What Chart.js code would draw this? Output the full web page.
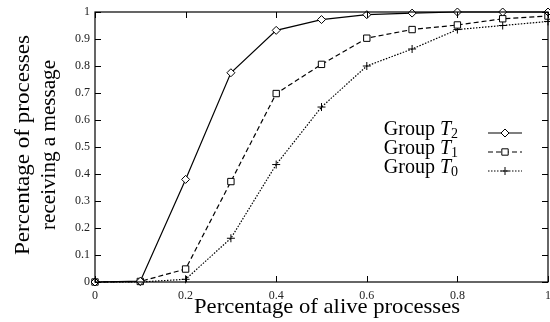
<!DOCTYPE html>
<html>
<head>
<meta charset="utf-8">
<script src="https://cdn.jsdelivr.net/npm/chart.js@4/dist/chart.umd.min.js"></script>
<style>
  html, body { margin: 0; padding: 0; background: #fff; }
  #wrap { width: 550px; height: 322px; }
</style>
</head>
<body>
<div id="wrap"><canvas id="c" width="550" height="322"></canvas></div>
<script>
const alive = [0, 0.1, 0.2, 0.3, 0.4, 0.5, 0.6, 0.7, 0.8, 0.9, 1];
const groupT2 = [0, 0.003, 0.38, 0.775, 0.932, 0.972, 0.99, 0.996, 1, 1, 1];
const groupT1 = [0, 0.002, 0.048, 0.372, 0.698, 0.806, 0.903, 0.935, 0.952, 0.975, 0.985];
const groupT0 = [0, 0, 0.01, 0.162, 0.435, 0.648, 0.8, 0.863, 0.935, 0.95, 0.965];
const xTicks = [0, 0.2, 0.4, 0.6, 0.8, 1];
const yTicks = [0, 0.1, 0.2, 0.3, 0.4, 0.5, 0.6, 0.7, 0.8, 0.9, 1];

const serif = "'Liberation Serif', 'DejaVu Serif', serif";

const series = [
    { sub: "2", data: groupT2, dash: [], style: "rectRot", radius: 4 },
    { sub: "1", data: groupT1, dash: [5, 3], style: "rect", radius: 4.5 },
    { sub: "0", data: groupT0, dash: [1.5, 1.5], style: "cross", radius: 4 }
];

// draws text stretched to a given width (the original uses a wider font)
function wideText(ctx, text, x, y, width) {
    const w = ctx.measureText(text).width;
    ctx.save();
    ctx.translate(x, y);
    ctx.scale(width / w, 1);
    ctx.fillText(text, 0, 0);
    ctx.restore();
}

// frame, inward ticks, axis titles and legend
const decor = {
    id: "decor",
    afterDraw(chart) {
        const ctx = chart.ctx;
        const a = chart.chartArea;
        const xs = chart.scales.x, ys = chart.scales.y;
        ctx.save();
        ctx.strokeStyle = "#000";
        ctx.lineWidth = 1.2;
        ctx.setLineDash([]);
        ctx.strokeRect(a.left, a.top, a.right - a.left, a.bottom - a.top);
        ctx.lineWidth = 1;
        ctx.beginPath();
        xTicks.forEach(v => {
            const px = Math.round(xs.getPixelForValue(v)) + 0.5;
            ctx.moveTo(px, a.bottom); ctx.lineTo(px, a.bottom - 6);
            ctx.moveTo(px, a.top); ctx.lineTo(px, a.top + 6);
        });
        yTicks.forEach(v => {
            const py = Math.round(ys.getPixelForValue(v)) + 0.5;
            ctx.moveTo(a.left, py); ctx.lineTo(a.left + 6, py);
            ctx.moveTo(a.right, py); ctx.lineTo(a.right - 6, py);
        });
        ctx.stroke();

        // axis titles
        ctx.fillStyle = "#000";
        ctx.font = "21px " + serif;
        ctx.textAlign = "center";
        ctx.textBaseline = "alphabetic";
        wideText(ctx, "Percentage of alive processes", 327, 313, 266);
        ctx.save();
        ctx.translate(0, 145);
        ctx.rotate(-Math.PI / 2);
        ctx.font = "20px " + serif;
        wideText(ctx, "Percentage of processes", 0, 29, 220);
        wideText(ctx, "receiving a message", 0, 55, 170);
        ctx.restore();

        // legend
        const rows = [135, 154, 173];
        series.forEach((s, i) => {
            const y = rows[i];
            ctx.fillStyle = "#000";
            ctx.textAlign = "left";
            ctx.textBaseline = "alphabetic";
            ctx.font = "14px " + serif;
            const subW = ctx.measureText(s.sub).width;
            ctx.font = "italic 20px " + serif;
            const tW = ctx.measureText("T").width;
            ctx.font = "20px " + serif;
            const gW = ctx.measureText("Group ").width;
            let x = 458 - subW - tW - gW;
            ctx.fillText("Group ", x, y);
            x += gW;
            ctx.font = "italic 20px " + serif;
            ctx.fillText("T", x, y);
            x += tW;
            ctx.font = "14px " + serif;
            ctx.fillText(s.sub, x, y + 3);

            const ly = y - 2;
            ctx.strokeStyle = "#000";
            ctx.lineWidth = 1.2;
            ctx.setLineDash(s.dash);
            ctx.beginPath();
            ctx.moveTo(488, ly); ctx.lineTo(522, ly);
            ctx.stroke();
            ctx.setLineDash([]);
            ctx.fillStyle = "#fff";
            ctx.lineWidth = 1;
            Chart.helpers.drawPoint(ctx, {
                pointStyle: s.style, radius: s.radius, rotation: 0, borderWidth: 1
            }, 505, ly);
        });
        ctx.restore();
    }
};

new Chart(document.getElementById("c"), {
    type: "line",
    data: {
        datasets: series.map(s => ({
            label: "Group T" + s.sub,
            data: alive.map((x, i) => ({ x: x, y: s.data[i] })),
            borderColor: "#000",
            borderWidth: 1.2,
            borderDash: s.dash,
            pointStyle: s.style,
            pointRadius: s.radius,
            pointBackgroundColor: "#fff",
            pointBorderColor: "#000",
            pointBorderWidth: 1,
            tension: 0,
            clip: 8
        }))
    },
    options: {
        responsive: false,
        animation: false,
        layout: { autoPadding: false, padding: { top: 12, right: 2, left: 0, bottom: 0 } },
        plugins: { legend: { display: false }, tooltip: { enabled: false } },
        scales: {
            x: {
                type: "linear", min: 0, max: 1,
                grid: { display: false, drawTicks: false },
                border: { display: false },
                afterBuildTicks: s => { s.ticks = xTicks.map(v => ({ value: v })); },
                afterFit: s => { s.height = 40; s.paddingLeft = 0; s.paddingRight = 0; },
                ticks: {
                    padding: 7, color: "#222", maxRotation: 0,
                    font: { family: serif, size: 12 },
                    callback: v => String(v)
                }
            },
            y: {
                min: 0, max: 1,
                grid: { display: false, drawTicks: false },
                border: { display: false },
                afterBuildTicks: s => { s.ticks = yTicks.map(v => ({ value: v })); },
                afterFit: s => { s.width = 95; s.paddingTop = 0; s.paddingBottom = 0; },
                ticks: {
                    padding: 5, color: "#222",
                    font: { family: serif, size: 12 },
                    callback: v => String(v)
                }
            }
        }
    },
    plugins: [decor]
});
</script>
</body>
</html>
